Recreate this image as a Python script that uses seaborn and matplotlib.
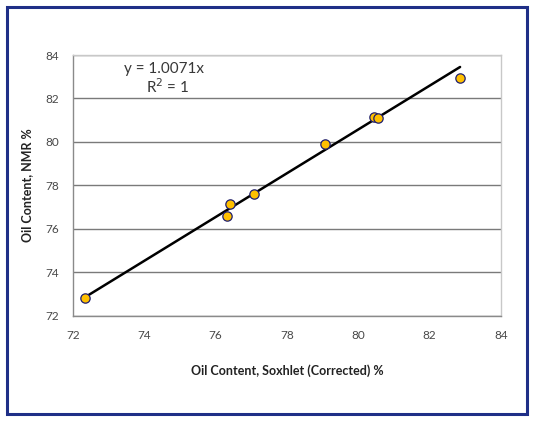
import numpy as np
import pandas as pd
import matplotlib
matplotlib.use('Agg')
import matplotlib.pyplot as plt
import seaborn as sns
from matplotlib.patches import Rectangle

# 数据
soxhlet = [72.33, 76.31, 76.41, 77.08, 79.07, 80.45, 80.55, 82.86]
nmr = [72.83, 76.61, 77.13, 77.61, 79.91, 81.16, 81.11, 82.92]
slope = 1.0071
ticks = [72, 74, 76, 78, 80, 82, 84]

sns.set_style('white')
plt.rcParams['font.family'] = ['Lato', 'DejaVu Sans']

df = pd.DataFrame({'x': soxhlet, 'y': nmr})
xs = np.array([min(soxhlet), max(soxhlet)])
trend = pd.DataFrame({'x': xs, 'y': slope * xs})

fig = plt.figure(figsize=(5.37, 4.22), dpi=100)
ax = fig.add_axes([73 / 537, 1 - 315.7 / 422, (500.7 - 73) / 537, (315.7 - 55) / 422])

sns.lineplot(data=trend, x='x', y='y', ax=ax, color='black', linewidth=1.8, zorder=3)
sns.scatterplot(data=df, x='x', y='y', ax=ax, color='#FFC000', edgecolor='#1F1F6F',
                linewidth=0.9, s=45, zorder=4)

ax.set_xlim(72, 84)
ax.set_ylim(72, 84)
ax.set_xticks(ticks)
ax.set_yticks(ticks)
ax.grid(axis='y', color='#7a7a7a', linewidth=1)
ax.set_axisbelow(True)
for side in ['top', 'right']:
    ax.spines[side].set_color('#c8c8c8')
for side in ['left', 'bottom']:
    ax.spines[side].set_color('#8a8a8a')
for sp in ax.spines.values():
    sp.set_linewidth(1)
ax.tick_params(axis='both', direction='out', length=5, width=0.8, color='#8a8a8a',
               labelsize=8.5, labelcolor='#484848', pad=5)

ax.set_xlabel('Oil Content, Soxhlet (Corrected) %', fontsize=9, fontweight='bold',
              color='#222222', labelpad=17)
ax.set_ylabel('Oil Content, NMR %', fontsize=9, fontweight='bold',
              color='#222222', labelpad=9)

ax.text(0.212, 0.946, 'y = 1.0071x', transform=ax.transAxes, ha='center', va='center',
        fontsize=11, color='#383838')
ax.text(0.222, 0.877, 'R$^2$ = 1', transform=ax.transAxes, ha='center', va='center',
        fontsize=11, color='#383838')

# 外框
fig.patches.append(Rectangle((7 / 537, 1 - 414 / 422), 520 / 537, 407 / 422,
                             transform=fig.transFigure, fill=False,
                             edgecolor='#1F2F87', linewidth=2.2))

fig.savefig('out.png', dpi=100, facecolor='white')
